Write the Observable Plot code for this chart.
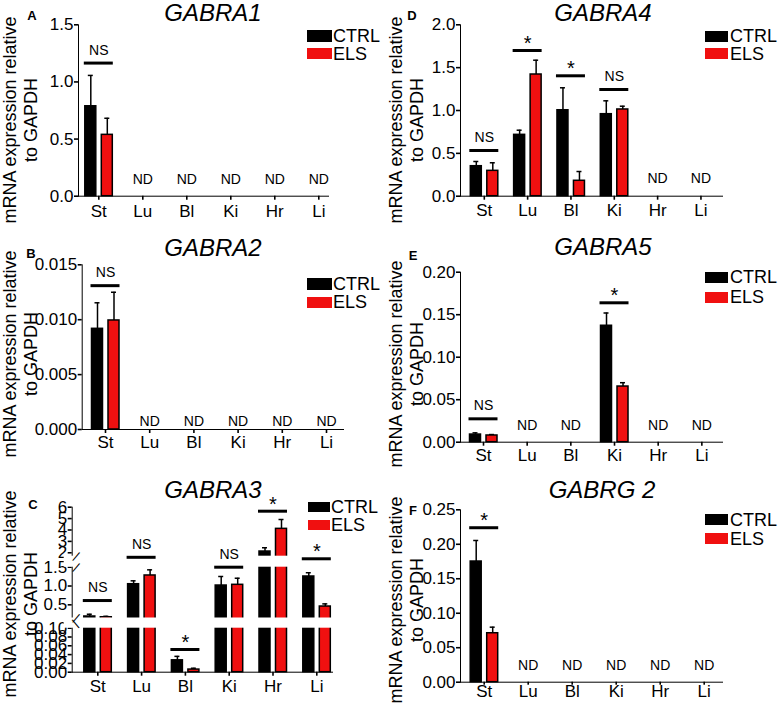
<!DOCTYPE html>
<html><head><meta charset="utf-8">
<script src="https://cdn.jsdelivr.net/npm/d3@7"></script>
<script src="https://cdn.jsdelivr.net/npm/@observablehq/plot@0.6"></script>
<style>
body{margin:0;background:#fff;}
#fig{position:relative;width:778px;height:704px;overflow:hidden;font-family:"Liberation Sans",Arial,sans-serif;color:#000;background:#fff;}
.abs{position:absolute;line-height:1;white-space:nowrap;}
.title{font-style:italic;font-size:24px;transform:translate(-50%,-50%);}
.letter{font-weight:bold;font-size:13px;transform:translate(-50%,-50%);}
.ylab{font-size:18px;line-height:21px;text-align:center;transform:translate(-50%,-50%) rotate(-90deg);}
.lt{font-size:18px;transform:translateY(-50%);}
.plotbox{position:absolute;}
.plotbox svg [aria-label^="x-axis"], .plotbox svg [aria-label^="y-axis"]{stroke-width:1.6px;}
</style>
</head><body><div id="fig"></div>
<script>
const categories = ["St", "Lu", "Bl", "Ki", "Hr", "Li"];
const groups = ["CTRL", "ELS"];
const groupColors = ["#000000", "#f01010"];

// A: GABRA1
const gabra1Ctrl    = [0.787, null, null, null, null, null];
const gabra1CtrlSem = [0.27,  null, null, null, null, null];
const gabra1Els     = [0.537, null, null, null, null, null];
const gabra1ElsSem  = [0.145, null, null, null, null, null];
const gabra1SigCat  = ["St"];
const gabra1SigY    = [1.165];
const gabra1SigText = ["NS"];
const gabra1Ticks   = [0, 0.5, 1.0, 1.5];

// B: GABRA2
const gabra2Ctrl    = [0.00917, null, null, null, null, null];
const gabra2CtrlSem = [0.00237, null, null, null, null, null];
const gabra2Els     = [0.00993, null, null, null, null, null];
const gabra2ElsSem  = [0.00257, null, null, null, null, null];
const gabra2SigCat  = ["St"];
const gabra2SigY    = [0.0131];
const gabra2SigText = ["NS"];
const gabra2Ticks   = [0, 0.005, 0.010, 0.015];

// C: GABRA3 (broken axis)
const gabra3Ctrl    = [0.19, 1.048, 0.027, 1.013, 2.11, 1.253];
const gabra3CtrlSem = [0.06, 0.09, 0.009, 0.24, 0.33, 0.10];
const gabra3Els     = [0.17, 1.28, 0.006, 1.032, 4.1, 0.455];
const gabra3ElsSem  = [0.025, 0.15, 0.003, 0.175, 0.82, 0.07];
const gabra3SigCat  = ["St", "Lu", "Bl", "Ki", "Hr", "Li"];
const gabra3SigY    = [0.614, 1.68, 0.0516, 1.5, 5.65, 1.653];
const gabra3SigText = ["NS", "NS", "*", "NS", "*", "*"];
const gabra3Ticks   = [0, 0.02, 0.04, 0.06, 0.08, 0.10, 0.5, 1.0, 1.5, 2, 3, 4, 5, 6];
const gabra3Breaks  = [0, 0.1, 0.15, 1.5, 1.7, 6];

// D: GABRA4
const gabra4Ctrl    = [0.35, 0.716, 1.003, 0.957, null, null];
const gabra4CtrlSem = [0.055, 0.054, 0.262, 0.156, null, null];
const gabra4Els     = [0.296, 1.42, 0.18, 1.012, null, null];
const gabra4ElsSem  = [0.094, 0.167, 0.108, 0.038, null, null];
const gabra4SigCat  = ["St", "Lu", "Bl", "Ki"];
const gabra4SigY    = [0.533, 1.70, 1.405, 1.245];
const gabra4SigText = ["NS", "*", "*", "NS"];
const gabra4Ticks   = [0, 0.5, 1.0, 1.5, 2.0];

// E: GABRA5
const gabra5Ctrl    = [0.009, null, null, 0.137, null, null];
const gabra5CtrlSem = [0.002, null, null, 0.015, null, null];
const gabra5Els     = [0.0079, null, null, 0.0655, null, null];
const gabra5ElsSem  = [0.0011, null, null, 0.0045, null, null];
const gabra5SigCat  = ["St", "Ki"];
const gabra5SigY    = [0.0275, 0.164];
const gabra5SigText = ["NS", "*"];
const gabra5Ticks   = [0, 0.05, 0.10, 0.15, 0.20];

// F: GABRG2
const gabrg2Ctrl    = [0.175, null, null, null, null, null];
const gabrg2CtrlSem = [0.0305, null, null, null, null, null];
const gabrg2Els     = [0.071, null, null, null, null, null];
const gabrg2ElsSem  = [0.0088, null, null, null, null, null];
const gabrg2SigCat  = ["St"];
const gabrg2SigY    = [0.224];
const gabrg2SigText = ["*"];
const gabrg2Ticks   = [0, 0.05, 0.10, 0.15, 0.20, 0.25];

const yLabelLines = ["mRNA expression relative", "to GAPDH"];

const panels = [
  {letter:"A", title:"GABRA1", ctrl:gabra1Ctrl, ctrlSem:gabra1CtrlSem, els:gabra1Els, elsSem:gabra1ElsSem,
   sigCat:gabra1SigCat, sigY:gabra1SigY, sigText:gabra1SigText, ticks:gabra1Ticks, fmt:d=>d.toFixed(1), domain:[0,1.5],
   L:{left:0, top:0, width:390, height:232, mL:78, mR:62, mT:24.3, mB:36.3, c0:98.3, step:44, xPad:5, xTick:4, nd:17,
      title:[213,13], letter:[32,15], ylab:[20.5,120], leg:{x:306.7, y:[30,47.7], w:25, h:11.6, tx:333}}},
  {letter:"B", title:"GABRA2", ctrl:gabra2Ctrl, ctrlSem:gabra2CtrlSem, els:gabra2Els, elsSem:gabra2ElsSem,
   sigCat:gabra2SigCat, sigY:gabra2SigY, sigText:gabra2SigText, ticks:gabra2Ticks, fmt:d=>d.toFixed(3), domain:[0,0.015],
   L:{left:0, top:232, width:390, height:232, mL:81.7, mR:47, mT:32.3, mB:35, c0:105, step:44.2, xPad:2, xTick:4, nd:8,
      title:[213,248], letter:[31,253], ylab:[20.5,354], leg:{x:306.7, y:[278.3,296.7], w:25, h:11.3, tx:333}}},
  {letter:"C", title:"GABRA3", ctrl:gabra3Ctrl, ctrlSem:gabra3CtrlSem, els:gabra3Els, elsSem:gabra3ElsSem,
   sigCat:gabra3SigCat, sigY:gabra3SigY, sigText:gabra3SigText, ticks:gabra3Ticks,
   fmt:d=>d<=0.1?d.toFixed(2):(d<=1.5?d.toFixed(1):String(d)), domain:gabra3Breaks, breaks:true,
   L:{left:0, top:464, width:390, height:240, mL:71.7, mR:58, mT:42.7, mB:32.3, c0:97.3, step:43.8, xPad:4, xTick:4, nd:17,
      yRange:[207.7,163.7,153.5,102.7,91.7,42.7],
      title:[213,490], letter:[33,504], ylab:[20.5,594], leg:{x:308.3, y:[501.7,520], w:22, h:10, tx:331}}},
  {letter:"D", title:"GABRA4", ctrl:gabra4Ctrl, ctrlSem:gabra4CtrlSem, els:gabra4Els, elsSem:gabra4ElsSem,
   sigCat:gabra4SigCat, sigY:gabra4SigY, sigText:gabra4SigText, ticks:gabra4Ticks, fmt:d=>d.toFixed(1), domain:[0,2],
   L:{left:390, top:0, width:388, height:232, mL:70, mR:56, mT:24.3, mB:36.3, c0:93.8, step:43.33, xPad:4, xTick:4, nd:18,
      title:[603,13], letter:[412,15], ylab:[406.5,120], leg:{x:705, y:[30.7,48.3], w:23.3, h:11, tx:730}}},
  {letter:"E", title:"GABRA5", ctrl:gabra5Ctrl, ctrlSem:gabra5CtrlSem, els:gabra5Els, elsSem:gabra5ElsSem,
   sigCat:gabra5SigCat, sigY:gabra5SigY, sigText:gabra5SigText, ticks:gabra5Ticks, fmt:d=>d.toFixed(2), domain:[0,0.2],
   L:{left:390, top:232, width:388, height:232, mL:70, mR:56, mT:39.7, mB:22.3, c0:93, step:43.67, xPad:3, xTick:4, nd:17,
      title:[603,247], letter:[413,255], ylab:[406.5,364], leg:{x:705, y:[271.7,291.7], w:23.3, h:11, tx:730}}},
  {letter:"F", title:"GABRG 2", ctrl:gabrg2Ctrl, ctrlSem:gabrg2CtrlSem, els:gabrg2Els, elsSem:gabrg2ElsSem,
   sigCat:gabrg2SigCat, sigY:gabrg2SigY, sigText:gabrg2SigText, ticks:gabrg2Ticks, fmt:d=>d.toFixed(2), domain:[0,0.25],
   L:{left:390, top:464, width:388, height:240, mL:70, mR:56, mT:45.3, mB:22.3, c0:93.7, step:44, xPad:0, xTick:3, nd:17,
      title:[602,490], letter:[413,510], ylab:[406.5,600], leg:{x:705, y:[514.3,533.3], w:23.3, h:11, tx:730}}}
];

const fig = document.getElementById("fig");
function addDiv(cls, text, x, y, extra) {
  const d = document.createElement("div");
  d.className = "abs " + cls;
  d.style.left = x + "px"; d.style.top = y + "px";
  if (typeof text === "string") d.textContent = text; else d.innerHTML = text.join("<br>");
  if (extra) Object.assign(d.style, extra);
  fig.appendChild(d);
  return d;
}

for (const p of panels) {
  const L = p.L;
  const half = L.step / 2;
  const r0 = L.c0 - half, r1 = L.c0 + L.step * 5.5;
  const ctrlRows = [], elsRows = [], ndRows = [];
  categories.forEach((c, i) => {
    if (p.ctrl[i] == null) { ndRows.push({cat: c, zero: 0}); return; }
    ctrlRows.push({cat: c, v: p.ctrl[i], top: p.ctrl[i] + p.ctrlSem[i]});
    elsRows.push({cat: c, v: p.els[i], top: p.els[i] + p.elsSem[i]});
  });
  const sigRows = p.sigCat.map((c, i) => ({cat: c, y: p.sigY[i], t: p.sigText[i]}));

  const marks = [
    Plot.ruleX(ctrlRows, {x: "cat", y1: "v", y2: "top", dx: -8, stroke: "#000", strokeWidth: 1.5}),
    Plot.ruleX(elsRows, {x: "cat", y1: "v", y2: "top", dx: 8.5, stroke: "#000", strokeWidth: 1.5}),
    Plot.tickY(ctrlRows, {x: "cat", y: "top", insetLeft: half - 10.5, insetRight: half + 5.5, stroke: "#000", strokeWidth: 1.5}),
    Plot.tickY(elsRows, {x: "cat", y: "top", insetLeft: half + 6, insetRight: half - 11, stroke: "#000", strokeWidth: 1.5}),
    Plot.barY(ctrlRows, {x: "cat", y: "v", fill: groupColors[0], stroke: "#000", strokeWidth: 1.5, insetLeft: half - 13.5, insetRight: half + 2.5}),
    Plot.barY(elsRows, {x: "cat", y: "v", fill: groupColors[1], stroke: "#000", strokeWidth: 1.5, insetLeft: half + 3, insetRight: half - 14})
  ];
  if (p.breaks) {
    const b = p.domain;
    const gapRows = [{a: b[1], b: b[2]}, {a: b[3], b: b[4]}];
    marks.push(Plot.rect(gapRows, {y1: "a", y2: "b", fill: "white", insetLeft: -8, insetRight: -4}));
    marks.push(Plot.text([b[2], b[3], b[4]], {y: d => d, text: () => "/", frameAnchor: "left", dx: 2, fontSize: 14, rotate: 25}));
    marks.push(Plot.text([b[1]], {y: d => d, text: () => "\\", frameAnchor: "left", dx: 2, dy: -3, fontSize: 14, rotate: -25}));
  }
  marks.push(
    Plot.tickY(sigRows, {x: "cat", y: "y", insetLeft: half - 14.5, insetRight: half - 14.5, stroke: "#000", strokeWidth: 3}),
    Plot.text(sigRows.filter(d => d.t === "NS"), {x: "cat", y: "y", text: "t", dy: -13, fontSize: 14}),
    Plot.text(sigRows.filter(d => d.t === "*"), {x: "cat", y: "y", text: "t", dy: -7, fontSize: 20}),
    Plot.text(ndRows, {x: "cat", y: "zero", text: () => "ND", dy: -L.nd, fontSize: 14})
  );

  const yOpts = {domain: p.domain, ticks: p.ticks, tickFormat: p.fmt, tickSize: 4, tickPadding: 1, line: true, label: null};
  if (L.yRange) { yOpts.range = L.yRange; yOpts.type = "linear"; }

  const chart = Plot.plot({
    width: L.width, height: L.height,
    marginLeft: L.mL, marginRight: L.mR, marginTop: L.mT, marginBottom: L.mB,
    style: {background: "none", overflow: "visible", fontFamily: "'Liberation Sans', Arial, sans-serif", fontSize: "17px", color: "#000"},
    x: {type: "band", domain: categories, range: [r0, r1], padding: 0, round: false, tickSize: L.xTick, tickPadding: L.xPad, line: true, label: null},
    y: yOpts,
    marks
  });
  const box = document.createElement("div");
  box.className = "plotbox";
  box.style.left = L.left + "px"; box.style.top = L.top + "px";
  box.style.width = L.width + "px"; box.style.height = L.height + "px";
  box.appendChild(chart);
  fig.appendChild(box);

  addDiv("title", p.title, L.title[0], L.title[1]);
  addDiv("letter", p.letter, L.letter[0], L.letter[1]);
  addDiv("ylab", yLabelLines, L.ylab[0], L.ylab[1]);
  groups.forEach((g, gi) => {
    const sw = document.createElement("div");
    sw.className = "abs";
    Object.assign(sw.style, {left: L.leg.x + "px", top: L.leg.y[gi] + "px", width: L.leg.w + "px", height: L.leg.h + "px", background: groupColors[gi]});
    fig.appendChild(sw);
    addDiv("lt", g, L.leg.tx, L.leg.y[gi] + L.leg.h / 2);
  });
}
</script>
</body></html>
